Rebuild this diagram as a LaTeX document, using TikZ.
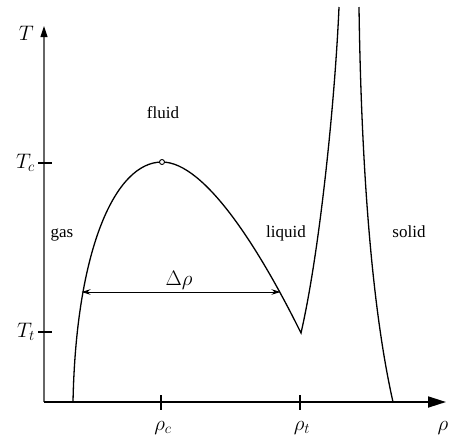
\documentclass[tikz,border=0pt]{standalone}
\usepackage{fix-cm}
\usepackage{fontspec}
\setmainfont{Liberation Serif}
\usetikzlibrary{arrows.meta}
\begin{document}
\begin{tikzpicture}[x=1pt,y=-1pt,
  curve/.style={line width=1.3pt},
  axisx/.style={line width=1.8pt},
  axisy/.style={line width=1.1pt, black!60},
  tickmark/.style={line width=1.8pt},
  lbl/.style={font=\fontsize{17}{20}\selectfont, inner sep=0pt, anchor=base},
  mlbl/.style={font=\fontsize{21}{24}\selectfont, inner sep=0pt}]
\useasboundingbox (0,0) rectangle (452,440);
\coordinate (O) at (44,402);
\coordinate (Ytop) at (44,26);
\coordinate (Xend) at (446,402);
% axes
\draw[axisy, -{Triangle[length=11pt,width=7pt,color=black]}] (O) -- (Ytop);
\draw[axisx, -{Triangle[length=18pt,width=11pt]}] (O) -- (Xend);
% ticks
\draw[tickmark] (38,163) -- (52,163);
\draw[tickmark] (38,332) -- (52,332);
\draw[tickmark] (161,395) -- (161,410);
\draw[tickmark] (300,395) -- (300,410);
% axis labels
\node[mlbl, anchor=base east] (T) at (34,40) {$T$};
\node[mlbl, anchor=base east] (Tc) at (35,168) {$T_c$};
\node[mlbl, anchor=base east] (Tt) at (35,337) {$T_t$};
\node[mlbl, anchor=base] (rc) at (163,430) {$\rho_c$};
\node[mlbl, anchor=base] (rt) at (302,430) {$\rho_t$};
\node[mlbl, anchor=base] (r) at (443,430) {$\rho$};
% coexistence curve and melting lines
\draw[curve] (73,402) .. controls (76,250) and (115,162) .. (162,162)
  .. controls (205,162) and (260,250) .. (301,333)
  .. controls (320,250) and (335,100) .. (339,7);
\draw[curve] (359,7) .. controls (361,150) and (370,300) .. (393,402);
\node[circle, draw, line width=0.9pt, fill=white, inner sep=0pt, minimum size=5pt] (crit) at (162,162) {};
% Delta rho
\coordinate (dl) at (81.5,292);
\coordinate (dr) at (280.5,292);
\draw[line width=1pt, {Stealth[length=9pt,width=5.5pt]}-{Stealth[length=9pt,width=5.5pt]}] (dl) -- (dr);
\node[mlbl, anchor=base] (drho) at (179,285) {$\Delta\rho$};
% region labels
\node[lbl] (fluid) at (163,118) {fluid};
\node[lbl] (gas) at (62,237) {gas};
\node[lbl] (liquid) at (286,237) {liquid};
\node[lbl] (solid) at (409,237) {solid};
\end{tikzpicture}
\end{document}
